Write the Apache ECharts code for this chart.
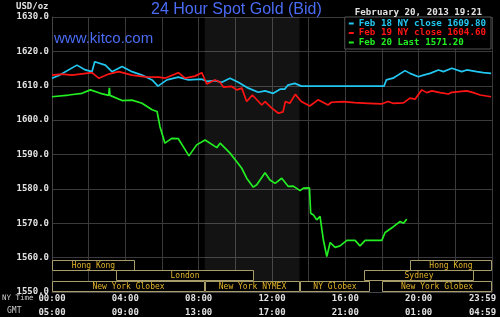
<!DOCTYPE html>
<html><head><meta charset="utf-8">
<script src="https://cdn.jsdelivr.net/npm/echarts@6/dist/echarts.min.js"></script>
<style>html,body{margin:0;padding:0;background:#000}#c{width:500px;height:317px}</style>
</head><body><div id="c"></div>
<script>
// ---- data ----
const nyTimeLabels = ['00:00','04:00','08:00','12:00','16:00','20:00','23:59'];
const gmtLabels = ['05:00','09:00','13:00','17:00','21:00','01:00','04:59'];
const legendNames = ['Feb 18 NY close 1609.80','Feb 19 NY close 1604.60','Feb 20 Last 1571.20'];

const feb18Hours = [0,0.37,1.36,1.82,2.18,2.33,2.91,3.27,3.82,4.36,4.91,5.46,5.78,6.27,6.89,7.44,8.17,8.44,8.89,9.26,9.71,10.16,10.71,11.25,11.62,12.07,12.44,12.69,12.87,13.24,13.60,18.11,18.24,18.60,19.26,19.53,19.98,20.26,20.62,21.08,21.35,21.81,22.35,22.62,23.17,23.53,23.95];
const feb18Prices = [1612.2,1613.0,1616.0,1614.6,1614.1,1617.0,1616.0,1614.1,1615.6,1614.1,1613.1,1611.7,1609.9,1611.7,1612.5,1611.7,1611.9,1611.3,1611.5,1611.0,1612.2,1611.0,1609.3,1608.1,1608.5,1607.8,1609.0,1609.0,1610.2,1610.7,1609.9,1609.9,1611.7,1612.2,1614.4,1613.6,1612.6,1613.1,1613.6,1614.6,1614.1,1615.1,1614.1,1614.6,1614.1,1613.8,1613.6];

const feb19Hours = [0,0.55,1.09,2.18,2.55,3.09,3.64,4.36,5.09,5.82,6.16,6.89,7.26,7.80,8.17,8.44,8.89,9.17,9.35,9.80,10.08,10.35,10.62,10.93,11.44,11.62,11.99,12.35,12.60,12.73,12.97,13.27,13.60,14.06,14.51,15.06,15.24,15.88,16.51,17.24,17.97,18.33,18.60,19.17,19.53,19.80,20.17,20.44,20.72,21.17,21.62,21.81,22.62,22.98,23.35,23.95];
const feb19Prices = [1613.1,1613.4,1613.1,1613.8,1612.2,1613.4,1614.1,1613.1,1612.6,1612.5,1612.2,1613.8,1612.2,1612.8,1613.8,1610.5,1611.7,1611.0,1609.6,1609.8,1608.8,1609.3,1605.4,1607.3,1604.4,1605.4,1603.5,1602.0,1602.4,1605.4,1604.9,1607.5,1605.4,1604.1,1605.9,1604.4,1605.2,1605.4,1605.1,1604.9,1604.7,1605.4,1604.9,1605.0,1606.4,1606.1,1608.8,1608.0,1608.5,1608.0,1607.6,1608.1,1608.5,1608.0,1607.3,1606.8];

const feb20Hours = [0,0.91,1.64,2.09,2.64,3.09,3.13,3.16,3.82,4.36,4.91,5.46,5.73,5.80,5.89,6.16,6.53,6.89,7.16,7.47,7.89,8.35,8.99,9.17,9.71,10.08,10.35,10.62,10.98,11.17,11.62,11.89,12.17,12.53,12.89,13.16,13.53,13.71,14.04,14.11,14.26,14.44,14.62,14.80,14.99,15.17,15.44,15.71,16.08,16.53,16.80,17.08,17.99,18.17,18.62,18.99,19.17,19.35];
const feb20Prices = [1606.8,1607.3,1607.8,1608.8,1607.8,1607.2,1609.4,1607.2,1605.7,1605.8,1604.9,1603.0,1602.5,1602.1,1598.1,1593.3,1594.7,1594.6,1592.3,1589.6,1592.8,1594.2,1592.0,1593.3,1590.4,1587.9,1586.0,1583.1,1580.5,1581.2,1584.7,1582.6,1581.6,1583.1,1580.7,1580.8,1579.5,1580.2,1580.3,1572.9,1572.4,1571.0,1572.0,1565.2,1560.3,1564.4,1563.0,1563.4,1565.0,1565.0,1563.4,1565.0,1565.0,1567.3,1569.0,1570.5,1570.0,1571.2];

const sessionNames = ['Hong Kong','Hong Kong','London','Sydney','New York Globex','New York NYMEX','NY Globex','New York Globex'];
const sessionStart = [0,19.5,3.5,17.0,0,8.333,13.5,18.0];
const sessionEnd   = [4.5,24,11.0,23.0,8.333,13.5,17.33,24];
const sessionRow   = [0,0,1,1,2,2,2,2];
const nymexShade = [8.333, 13.5];

// ---- chart ----
const mono = 'DejaVu Sans Mono';
const zip = (h, p) => h.map((x, i) => [x, p[i]]);
const colors = ['#22c8f2', '#ff1414', '#22ee22'];
const lab = {color:'#e2e2e2', fontFamily:mono, fontWeight:'bold', fontSize:9};

const chart = echarts.init(document.getElementById('c'), null, {renderer:'canvas'});
chart.setOption({
  backgroundColor:'#000',
  animation:false,
  title:[
    {text:'24 Hour Spot Gold (Bid)', left:151, top:2, padding:0,
     textStyle:{color:'#4a6cf4', fontFamily:'Liberation Sans', fontSize:16, fontWeight:'normal'}},
    {text:'www.kitco.com', left:54, top:31, padding:0,
     textStyle:{color:'#4a6cf4', fontFamily:'Liberation Sans', fontSize:15, fontWeight:'normal'}},
    {text:'February 20, 2013 19:21', right:18, top:8, padding:0,
     textStyle:{color:'#e2e2e2', fontFamily:mono, fontSize:9.2, fontWeight:'bold'}}
  ],
  graphic:[
    {type:'text', left:16, top:2, style:{text:'USD/oz', fill:'#e2e2e2', font:'bold 9px "DejaVu Sans Mono"'}},
    {type:'text', left:2, top:294, style:{text:'NY Time', fill:'#cccccc', font:'7.5px "DejaVu Sans Mono"'}},
    {type:'text', left:7, top:307, style:{text:'GMT', fill:'#cccccc', font:'8px "DejaVu Sans Mono"'}}
  ],
  legend:{
    right:9, top:17, orient:'vertical', selectedMode:false,
    icon:'rect', itemWidth:5, itemHeight:2, itemGap:0.5,
    backgroundColor:'#000', borderColor:'#555', borderWidth:1, padding:[2,5,2,4],
    textStyle:{fontFamily:mono, fontWeight:'bold', fontSize:9.2},
    data: legendNames.map((n, i) => ({name:n, textStyle:{color:colors[i]}}))
  },
  grid:{left:52, right:8, top:17, bottom:25, containLabel:false},
  xAxis:[
    {type:'value', min:0, max:24, interval:2,
     axisLine:{lineStyle:{color:'#444'}}, axisTick:{show:false},
     splitLine:{lineStyle:{color:'#3a3a3a'}},
     axisLabel:Object.assign({margin:2, hideOverlap:false, showMaxLabel:true,
       formatter:v => v % 4 === 0 ? (v === 24 ? '{r|' + nyTimeLabels[v/4] + '}' : nyTimeLabels[v/4]) : '',
       rich:{r:Object.assign({padding:[0,19,0,0]}, lab)}}, lab)},
    {type:'value', min:0, max:24, interval:2, position:'bottom', offset:14,
     axisLine:{show:false}, axisTick:{show:false}, splitLine:{show:false},
     axisLabel:Object.assign({margin:2, hideOverlap:false, showMaxLabel:true,
       formatter:v => v % 4 === 0 ? (v === 24 ? '{r|' + gmtLabels[v/4] + '}' : gmtLabels[v/4]) : '',
       rich:{r:Object.assign({padding:[0,19,0,0]}, lab)}}, lab)}
  ],
  yAxis:{type:'value', min:1550, max:1630, interval:10,
    axisLine:{show:true, lineStyle:{color:'#444'}}, axisTick:{show:false},
    splitLine:{lineStyle:{color:'#3a3a3a'}},
    axisLabel:Object.assign({margin:3, formatter:v => v.toFixed(1)}, lab)},
  series:[
    {name:legendNames[0], type:'line', data:zip(feb18Hours, feb18Prices), showSymbol:false,
     lineStyle:{color:colors[0], width:1.7}, itemStyle:{color:colors[0]},
     markArea:{silent:true, itemStyle:{color:'rgba(200,215,200,0.09)'},
       data:[[{xAxis:nymexShade[0]},{xAxis:nymexShade[1]}]]}},
    {name:legendNames[1], type:'line', data:zip(feb19Hours, feb19Prices), showSymbol:false,
     lineStyle:{color:colors[1], width:1.7}, itemStyle:{color:colors[1]}},
    {name:legendNames[2], type:'line', data:zip(feb20Hours, feb20Prices), showSymbol:false,
     lineStyle:{color:colors[2], width:1.7}, itemStyle:{color:colors[2]}},
    {type:'custom', silent:true, z:5,
     data: sessionNames.map((n, i) => [sessionStart[i], sessionEnd[i], sessionRow[i]]),
     encode:{x:[0,1]},
     renderItem:(params, api) => {
       const i = params.dataIndex;
       const p0 = api.coord([api.value(0), 1550]);
       const p1 = api.coord([api.value(1), 1550]);
       const x0 = Math.round(p0[0]) + 0.5, x1 = Math.round(p1[0]) - 0.5;
       const top = Math.round(p0[1]) - 32 + Math.round(api.value(2) * 10.3) + 0.5;
       return {type:'group', children:[
         {type:'rect', shape:{x:x0, y:top, width:x1 - x0, height:10},
          style:{fill:'#000', stroke:'#a89c68', lineWidth:1}},
         {type:'text', style:{text:sessionNames[i], x:(x0 + x1) / 2, y:top + 5.5,
          align:'center', verticalAlign:'middle', fill:'#e2b42a',
          font:'8px "DejaVu Sans Mono"'}}
       ]};
     }}
  ]
});
</script></body></html>
